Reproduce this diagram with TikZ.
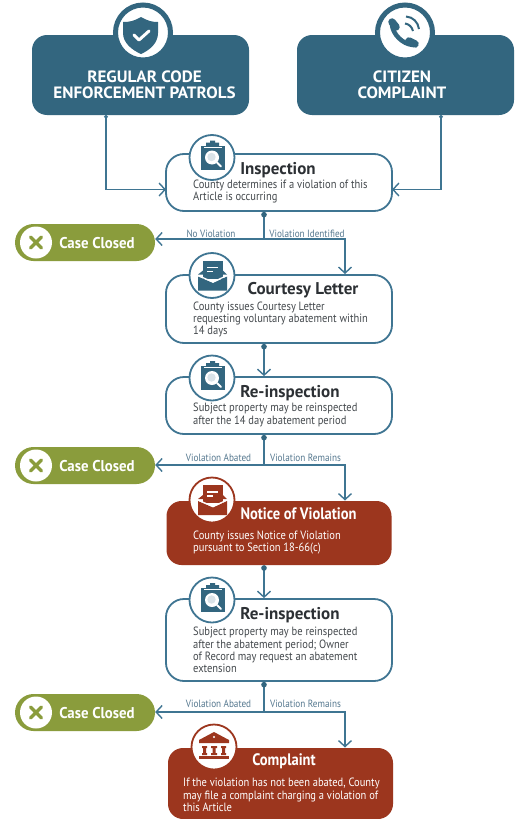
\documentclass[tikz,border=0pt]{standalone}
\usepackage{fontspec}
\setmainfont{PT Sans}[FakeStretch=0.875]
\newfontfamily\headf{PT Sans}[FakeStretch=1.04]
\newfontfamily\titlef{PT Sans}
\newfontfamily\closef{PT Sans}[FakeStretch=0.95]
\usetikzlibrary{arrows.meta,calc}
\definecolor{navy}{HTML}{33667F}
\definecolor{flowc}{HTML}{3F7592}
\definecolor{oliv}{HTML}{8A9C3C}
\definecolor{brick}{HTML}{9C361E}
\definecolor{inkc}{HTML}{2C3034}
\definecolor{bodyc}{HTML}{44494D}
\definecolor{labc}{HTML}{55788F}
\tikzset{
 x=1pt,y=-1pt,
 source/.style={fill=navy,rounded corners=15pt,minimum width=217pt,minimum height=80pt,inner sep=0pt},
 stagebox/.style={draw=flowc,line width=1.8pt,fill=white,rounded corners=18pt,minimum width=226pt,inner sep=0pt},
 alertbox/.style={fill=brick,rounded corners=15pt,minimum width=225pt,inner sep=0pt},
 closedbox/.style={fill=oliv,rounded corners=18.5pt,minimum width=140pt,minimum height=37pt,inner sep=0pt},
 ring/.style={circle,draw=#1,fill=white,line width=1.8pt,minimum size=45pt,inner sep=0pt},
 bigring/.style={circle,draw=navy,fill=white,line width=5pt,minimum size=55pt,inner sep=0pt},
 xdisc/.style={circle,fill=white,minimum size=32pt,inner sep=0pt},
 headtxt/.style={font=\headf\bfseries\fontsize{16.4}{17}\selectfont,text=white,align=center,inner sep=0pt},
 titletxt/.style={font=\titlef\bfseries\fontsize{17}{18}\selectfont,text=inkc,inner sep=0pt},
 titlew/.style={font=\bfseries\fontsize{16.6}{18}\selectfont,text=white,inner sep=0pt},
 bodytxt/.style={font=\fontsize{12}{12.3}\selectfont,text=bodyc,align=left,anchor=west,inner sep=0pt},
 bodyw/.style={bodytxt,text=white},
 closedtxt/.style={font=\closef\bfseries\fontsize{15.6}{16}\selectfont,text=white,inner sep=0pt},
 lab/.style={font=\fontsize{10.5}{11}\selectfont,text=labc,inner sep=0pt},
 flow/.style={draw=flowc,line width=1.5pt,-{Straight Barb[length=6pt,width=13pt,line width=1.4pt]}},
 flowdot/.style={flow,{Circle[length=5.5pt,width=5.5pt,fill=navy,color=navy]}-{Straight Barb[length=6pt,width=13pt,line width=1.4pt]}},
 flowtap/.style={flow,{Circle[length=3.5pt,width=3.5pt,fill=white,color=flowc]}-{Straight Barb[length=6pt,width=13pt,line width=1.4pt]}},
 stem/.style={draw=flowc,line width=1.5pt,{Circle[length=5.5pt,width=5.5pt,fill=navy,color=navy]}-},
 pics/clipicon/.style={code={
   \fill[navy] (-11,-12) rectangle (13,12);
   \fill[navy] (-2,-17) -- (3,-17) -- (3,-15) -- (7,-15) -- (7,-11) -- (-6,-11) -- (-6,-15) -- (-2,-15) -- cycle;
   \draw[white,line width=.9pt] (-8,-10.5) -- (10,-10.5);
   \fill[white] (0,0) circle (7);
   \fill[white!82!navy] (-.5,-.5) circle (4.2);
   \draw[white,line width=1.8pt,line cap=round] (5,5) -- (9,9);
 }},
 pics/envicon/.style={code={
   \fill[#1] (-9,-15) rectangle (11,3);
   \fill[#1] (11,-5) -- (15,-1) -- (11,-1) -- cycle;
   \fill[#1] (-9,-5) -- (-14,-1) -- (-9,-1) -- cycle;
   \draw[white,line width=1.2pt] (-5,-8) -- (6,-8) (-5,-4) -- (1,-4);
   \fill[#1] (-14,1) -- (1,7.5) -- (15,1) -- (15,15) -- (-14,15) -- cycle;
   \draw[white,line width=1.2pt] (-14,0) -- (1,6.5) -- (15,0);
 }},
 pics/bankicon/.style={code={
   \fill[brick] (0,-15) -- (15,-7) -- (15,-4) -- (-15,-4) -- (-15,-7) -- cycle;
   \fill[white] (0,-10) circle (1.2);
   \fill[brick] (-12,-1) rectangle (-7,1) (-3,-1) rectangle (3,1) (7,-1) rectangle (12,1);
   \fill[brick] (-11,1) rectangle (-8,6) (-1.5,1) rectangle (1.5,6) (8,1) rectangle (11,6);
   \fill[brick] (-12,6) rectangle (-7,8) (-3,6) rectangle (3,8) (7,6) rectangle (12,8);
   \fill[brick] (-15,9) rectangle (15,12);
 }},
}
\begin{document}
\begin{tikzpicture}
\useasboundingbox (0,0) rectangle (517,819);
\fill[white] (0,0) rectangle (517,819);
% source boxes
\node[source] (patrols) at (140.5,75) {};
\node[source] (citizen) at (405.5,75) {};
\node[bigring] (shieldring) at (143,32.5) {};
\node[bigring] (phonering) at (405,32.5) {};
\fill[navy] (141,17) .. controls (134,21) and (130,22) .. (123,22) -- (123,33) .. controls (123,43) and (132,50) .. (141,54) .. controls (150,50) and (158,43) .. (158,33) -- (158,22) .. controls (152,22) and (148,21) .. (141,17) -- cycle;
\draw[white,line width=3pt,line cap=round,line join=round] (134,35) -- (139,40) -- (149,31);
% phone
\draw[navy,line width=4.5pt,line cap=round] (392,25) .. controls (393,34) and (402,44) .. (413,45);
\draw[navy,line width=7.5pt,line cap=round] (392,22) -- (396,27);
\draw[navy,line width=7.5pt,line cap=round] (409,41) -- (415,44);
\draw[navy,line width=2pt] (405,23.5) .. controls (409,24) and (412,27) .. (413,31);
\draw[navy,line width=2pt] (406,16.5) .. controls (413,17) and (418,22) .. (419,29);
\node[headtxt] (patrolsA) at (144.5,76.5) {REGULAR CODE};
\node[headtxt] (patrolsB) at (144.5,92.5) {ENFORCEMENT PATROLS};
\node[headtxt] (citizenA) at (402,76.5) {CITIZEN};
\node[headtxt] (citizenB) at (402,92.5) {COMPLAINT};
% stage boxes
\node[stagebox,minimum height=57pt] (insp) at (279,182.5) {};
\node[stagebox,minimum height=68pt] (court) at (279,309) {};
\node[stagebox,minimum height=57pt] (rein) at (279,405.5) {};
\node[alertbox,minimum height=64pt] (notice) at (279,533) {};
\node[stagebox,minimum height=82pt] (reinb) at (279,640) {};
\node[alertbox,minimum height=71pt] (compl) at (280.5,783.5) {};
% closed pills
\node[closedbox] (closedA) at (85,242.5) {};
\node[closedbox] (closedB) at (85,465.5) {};
\node[closedbox] (closedC) at (85,712.5) {};
% connector ends
\coordinate (tapA) at (106,115);
\coordinate (tapB) at (441,115);
\coordinate (inspL) at (166,189.5);
\coordinate (inspR) at (392,189.5);
\coordinate (j1) at (264,239);
\coordinate (j2) at (264,465);
\coordinate (j3) at (264,712);
\coordinate (courtIn) at (345,274);
\coordinate (noticeIn) at (345,500.5);
\coordinate (complIn) at (345,747.5);
% connectors
\draw[flowtap] (tapA) |- (inspL);
\draw[flowtap] (tapB) |- (inspR);
\draw[stem] (j1 |- insp.south) -- (j1);
\draw[flow] (j1) -- (j1 -| closedA.east);
\draw[flow] (j1) -| (courtIn);
\draw[flowdot] (j1 |- court.south) -- (j1 |- rein.north);
\draw[stem] (j2 |- rein.south) -- (j2);
\draw[flow] (j2) -- (j2 -| closedB.east);
\draw[flow] (j2) -| (noticeIn);
\draw[flowdot] (j2 |- notice.south) -- (j2 |- reinb.north);
\draw[stem] (j3 |- reinb.south) -- (j3);
\draw[flow] (j3) -- (j3 -| closedC.east);
\draw[flow] (j3) -| (complIn);
% icon rings
\node[ring=flowc] (inspIcon) at (212,157.5) {};
\pic at (inspIcon) {clipicon};
\node[ring=flowc] (courtIcon) at (212,275.5) {};
\pic at (courtIcon) {envicon=navy};
\node[ring=flowc] (reinIcon) at (212,378) {};
\pic at (reinIcon) {clipicon};
\node[ring=brick] (noticeIcon) at (212,500) {};
\pic at (noticeIcon) {envicon=brick};
\node[ring=flowc] (reinbIcon) at (212,600) {};
\pic at (reinbIcon) {clipicon};
\node[ring=brick] (complIcon) at (214,747) {};
\pic at (complIcon) {bankicon};
% disc icons
\foreach \n/\y in {discA/242.5,discB/465.5,discC/712.5}{
  \node[xdisc] (\n) at (36,\y) {};
  \draw[oliv,line width=3.2pt,line cap=round] ($(\n)+(-5.5,-5.5)$) -- ($(\n)+(5.5,5.5)$) ($(\n)+(5.5,-5.5)$) -- ($(\n)+(-5.5,5.5)$);
}
% text
\node[titletxt] (t1) at (278,170.5) {Inspection};
\node[bodytxt] (b1) at (193,191.5) {County determines if a violation of this\\Article is occurring};
\node[titletxt] (t2) at (303,290.5) {Courtesy Letter};
\node[bodytxt] (b2) at (193,319.5) {County issues Courtesy Letter\\requesting voluntary abatement within\\14 days};
\node[titletxt] (t3) at (290,393.5) {Re-inspection};
\node[bodytxt] (b3) at (193,415) {Subject property may be reinspected\\after the 14 day abatement period};
\node[titlew] (t4) at (298.5,513.5) {Notice of Violation};
\node[bodyw] (b4) at (193,542.5) {County issues Notice of Violation\\pursuant to Section 18-66(c)};
\node[titletxt] (t5) at (290,615.5) {Re-inspection};
\node[bodytxt] (b5) at (193,650) {Subject property may be reinspected\\after the abatement period; Owner\\of Record may request an abatement\\extension};
\node[titlew] (t6) at (284,761.5) {Complaint};
\node[bodyw] (b6) at (183,795) {If the violation has not been abated, County\\may file a complaint charging a violation of\\this Article};
\node[lab] (l1) at (211,234) {No Violation};
\node[lab] (l2) at (307,234) {Violation Identified};
\node[lab] (l3) at (218.5,457.5) {Violation Abated};
\node[lab] (l4) at (305.5,457.5) {Violation Remains};
\node[lab] (l5) at (218.5,704) {Violation Abated};
\node[lab] (l6) at (305.5,704) {Violation Remains};
\node[closedtxt] (c1) at (97,243) {Case Closed};
\node[closedtxt] (c2) at (97,466) {Case Closed};
\node[closedtxt] (c3) at (97,713) {Case Closed};
\end{tikzpicture}
\end{document}
